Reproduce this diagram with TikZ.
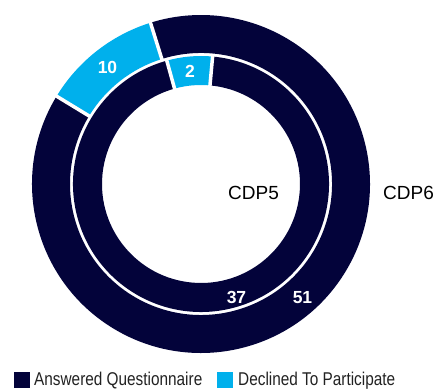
\documentclass[tikz,border=0pt]{standalone}
\usepackage{fontspec}
\setmainfont{Liberation Sans}
\newfontfamily\legfont[FakeStretch=0.83]{Liberation Sans}
\definecolor{navy}{RGB}{3,3,58}
\definecolor{sky}{RGB}{0,176,236}
\definecolor{legtext}{RGB}{34,34,34}
\begin{document}
\begin{tikzpicture}[x=1pt,y=1pt,
  sep/.style={draw=white,line width=3.5pt},
  val/.style={text=white,font=\fontsize{17.5}{17.5}\selectfont\bfseries,inner sep=0pt},
  ringlabel/.style={font=\fontsize{19}{19}\selectfont,inner sep=0pt,anchor=base west},
  legtxt/.style={font=\legfont\fontsize{18.5}{18.5}\selectfont,text=legtext,inner sep=0pt,anchor=base west}]
\useasboundingbox (0,0) rectangle (440,390);
\coordinate (c) at (201,206);
% outer ring (CDP6)
\fill[navy] ([shift={(148.7:169)}]c) arc[start angle=148.7,end angle=467.4,radius=169]
  -- ([shift={(107.4:131)}]c) arc[start angle=467.4,end angle=148.7,radius=131] -- cycle;
\fill[sky] ([shift={(107.4:169)}]c) arc[start angle=107.4,end angle=148.7,radius=169]
  -- ([shift={(148.7:131)}]c) arc[start angle=148.7,end angle=107.4,radius=131] -- cycle;
% inner ring (CDP5)
\fill[navy] ([shift={(105.5:128)}]c) arc[start angle=105.5,end angle=444.8,radius=128]
  -- ([shift={(84.8:99)}]c) arc[start angle=444.8,end angle=105.5,radius=99] -- cycle;
\fill[sky] ([shift={(84.8:128)}]c) arc[start angle=84.8,end angle=105.5,radius=128]
  -- ([shift={(105.5:99)}]c) arc[start angle=105.5,end angle=84.8,radius=99] -- cycle;
% separators
\coordinate (o1a) at ([shift={(107.4:129)}]c);
\coordinate (o1b) at ([shift={(107.4:171)}]c);
\coordinate (o2a) at ([shift={(148.7:129)}]c);
\coordinate (o2b) at ([shift={(148.7:171)}]c);
\coordinate (i1a) at ([shift={(105.5:97)}]c);
\coordinate (i1b) at ([shift={(105.5:130)}]c);
\coordinate (i2a) at ([shift={(84.8:97)}]c);
\coordinate (i2b) at ([shift={(84.8:130)}]c);
\draw[sep] (o1a) -- (o1b);
\draw[sep] (o2a) -- (o2b);
\draw[sep] (i1a) -- (i1b);
\draw[sep] (i2a) -- (i2b);
% value labels
\node[val] (v10) at (107.5,323) {10};
\node[val] (v2) at (190,319) {2};
\node[val] (v37) at (236.5,92.5) {37};
\node[val] (v51) at (302.5,92.5) {51};
% ring labels
\node[ringlabel] (cdp5) at (228,190) {CDP5};
\node[ringlabel] (cdp6) at (383,190) {CDP6};
% legend
\fill[navy] (14,2) rectangle (30,18);
\node[legtxt] (l1) at (34,4.2) {Answered Questionnaire};
\fill[sky] (217,2) rectangle (233,18);
\node[legtxt] (l2) at (238,4.2) {Declined To Participate};
\end{tikzpicture}
\end{document}
